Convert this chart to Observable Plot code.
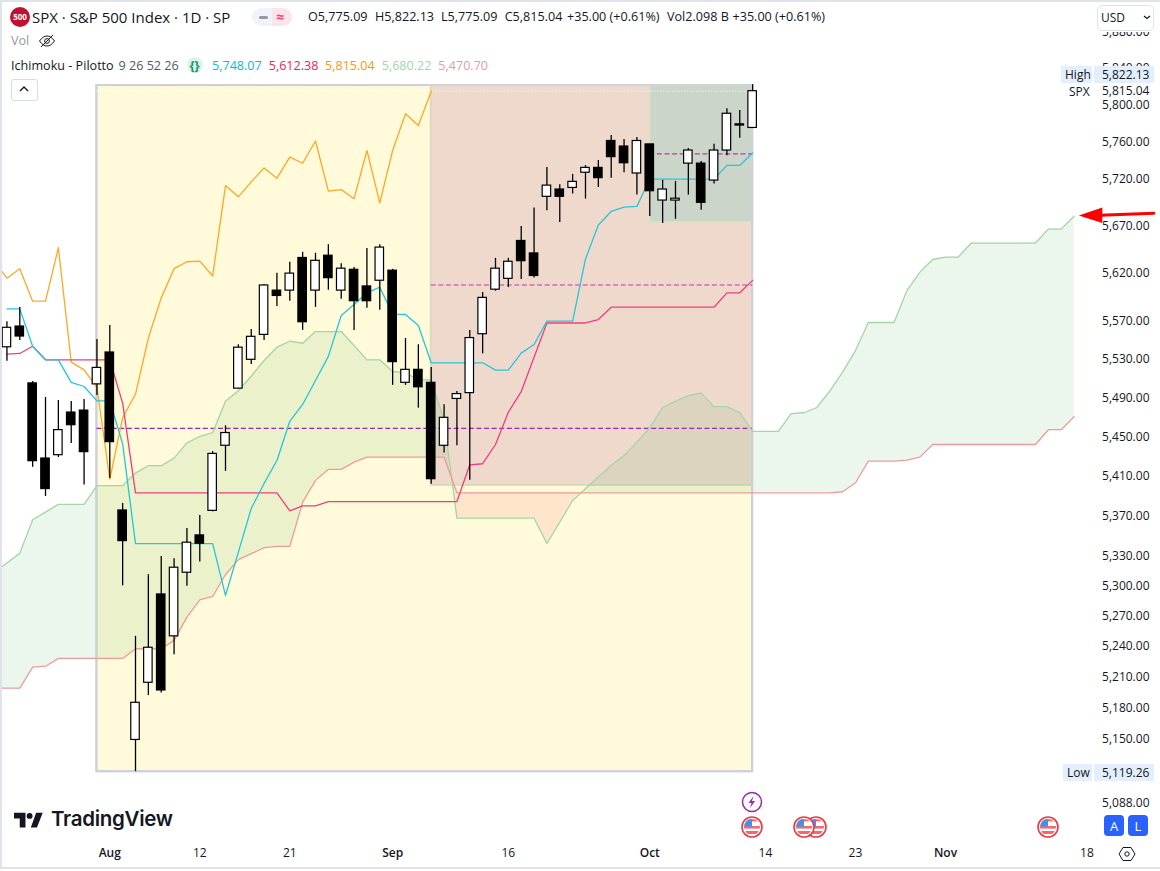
<!DOCTYPE html>
<html>
<head>
<meta charset="utf-8">
<script src="https://cdn.jsdelivr.net/npm/d3@7"></script>
<script src="https://cdn.jsdelivr.net/npm/@observablehq/plot@0.6"></script>
<style>
html,body{margin:0;padding:0;background:#fff;width:1160px;height:871px;overflow:hidden}
#root{position:relative;width:1160px;height:871px;font-family:"Open Sans",sans-serif;color:#131722}
#root svg{display:block}
.t{position:absolute;white-space:nowrap;line-height:16px;font-size:12px;transform:translateY(-50%)}
.b{position:absolute}
</style>
</head>
<body>
<div id="root"></div>
<script>
// ---- candles, index 0 = 1 Aug, first candle index -8
const firstCandle = -8;
const open  = [5542.4,5564,5505,5428,5431.4,5475,5477,5504,5537,5375.4,5149,5204.5,5291.4,5250,5313,5350.3,5375,5441,5499.6,5529.4,5555.3,5601.6,5601.6,5636,5601.6,5638.4,5601.6,5623.5,5606,5612,5622.6,5505.6,5519,5505.6,5441,5489,5495,5556,5602.6,5614,5654,5640.8,5701,5708.8,5710.5,5726.8,5732,5761,5755,5726,5757.3,5697,5697,5736.6,5736.6,5718.4,5750.7,5779,5775.09];
const high  = [5569,5584,5507,5490.5,5487.4,5486.4,5488.5,5550.5,5565,5382.5,5250,5311,5329.3,5327,5357.3,5370.3,5435,5461.4,5545,5561,5608,5620,5631.4,5642,5641,5650,5630,5626,5646,5650,5624,5551.5,5545,5521.5,5483,5496.6,5560,5599.6,5635.6,5635.6,5669.4,5689,5732.5,5714,5725,5734.6,5740,5767,5762.6,5764.7,5757.6,5718.6,5717.5,5753,5739,5757.6,5796,5794,5822.13];
const low   = [5528,5549.4,5419,5389.5,5429,5443.3,5401,5492.5,5407.8,5300,5118.5,5192,5194.4,5232,5299.6,5323.6,5374,5415,5499.6,5524.6,5549.4,5585,5590.5,5560,5584,5602,5592.5,5560,5583,5581,5503,5503,5479.5,5402,5433.5,5441,5406,5535.6,5601,5604.8,5613.3,5615,5686,5673.6,5704,5698.6,5711,5721,5726.8,5703,5680,5672.6,5677,5703,5686.6,5714.6,5745,5764,5775.09];
const close = [5562.7,5553.6,5425.3,5397,5457,5462,5434.5,5521,5444.7,5344.6,5185,5238.8,5197,5318,5343,5342,5432.7,5454,5542,5553.3,5607,5596,5619.5,5568.5,5633,5614.7,5624.7,5590.5,5590.5,5647,5527,5519,5501,5407,5469.6,5494,5552,5594,5624.7,5632,5632.6,5617,5713,5701,5717,5732,5721,5743.6,5737,5761,5707,5708.8,5699,5750.7,5694.6,5750.7,5790.5,5777.7,5815.04];

// ---- Ichimoku lines
const firstTenkan = -8;
const tenkan = [5582.5,5582.5,5543.5,5529.4,5529.4,5506,5501.8,5487,5487,5443,5342,5342,5342,5342,5342,5342,5342,5290.4,5333.5,5377.4,5402.7,5426,5466,5483.3,5508,5533,5575.5,5587,5599.3,5605.2,5577,5576.6,5565,5526.3,5526.3,5526.3,5526.3,5526.3,5518.7,5518.7,5536.3,5545.3,5569.6,5569.6,5569.6,5635,5671,5685.4,5690,5690.8,5720,5720,5720,5720,5720,5720,5734.7,5734.7,5748.07];
const firstKijun = -8;
const kijun = [5535.2,5536,5543.5,5529.4,5529.4,5529.4,5529.4,5529.4,5529.4,5484.7,5393.2,5393.2,5393.2,5393.2,5393.2,5393.2,5393.2,5393.2,5393.2,5393.2,5393.2,5393.2,5375,5380,5380,5384.4,5384.4,5384.4,5384.4,5384.4,5384.4,5384.4,5384.4,5384.4,5384.4,5384.4,5421.6,5422.7,5442.3,5475.4,5496.6,5532,5567.7,5567.7,5567.7,5567.7,5571.3,5584.2,5584.2,5584.2,5584.2,5584.2,5584.2,5584.2,5584.2,5584.2,5599.3,5599.3,5612.38];
const firstChikou = -9;
const chikou = [5633,5614.7,5624.7,5590.5,5590.5,5647,5527,5519,5501,5407,5469.6,5494,5552,5594,5624.7,5632,5632.6,5617,5713,5701,5717,5732,5721,5743.6,5737,5761,5707,5708.8,5699,5750.7,5694.6,5750.7,5790.5,5777.7,5815.04];
const firstSenkou = -9;
const senkouA = [5313.3,5322.6,5332.3,5366,5373.7,5381.5,5381.5,5381.5,5400.4,5400.4,5400.4,5413.2,5420.7,5420.7,5428.4,5444,5450.5,5454.3,5486.7,5497.4,5512.4,5528.7,5542.5,5548.7,5546.6,5558.8,5558.8,5558.8,5544.2,5529.4,5529.4,5517.3,5516,5508.7,5508.7,5467,5367.6,5367.6,5367.6,5367.6,5367.6,5367.6,5367.6,5342.3,5363.6,5385.5,5397.4,5409.2,5421,5431,5444.7,5459.5,5480.2,5486.4,5492.5,5495,5481,5481,5475,5455.6,5455.6,5455.6,5473.8,5474.8,5480.2,5497,5516.6,5539,5568.2,5568.2,5568.2,5601.6,5620.8,5634.4,5637,5637,5651.8,5651.8,5651.8,5651.8,5651.8,5651.8,5666.6,5666.6,5680.22];
const senkouB = [5199.3,5199.3,5199.3,5219.7,5220.7,5228.3,5228.3,5228.3,5228.3,5228.3,5228.3,5237.8,5237.8,5237.8,5246,5268.9,5286,5289.4,5311.2,5326,5332,5338,5339.3,5339.3,5383.8,5405.8,5417,5417,5424.3,5429.4,5429.4,5429.4,5429.4,5429.4,5429.4,5429.4,5393.2,5393.2,5393.2,5393.2,5393.2,5393.2,5393.2,5393.2,5393.2,5393.2,5393.2,5393.2,5393.2,5393.2,5393.2,5393.2,5393.2,5393.2,5393.2,5393.2,5393.2,5393.2,5393.2,5393.2,5393.2,5393.2,5393.2,5393.2,5393.2,5393.2,5394.3,5403.4,5425.3,5425.3,5425.3,5426.3,5429.4,5442.3,5442.3,5442.3,5442.3,5442.3,5442.3,5442.3,5442.3,5442.3,5457.4,5457.4,5470.7];

// ---- range boxes and their midlines
const boxes = [
  {i1:-1, i2:50, p1:5118.4, p2:5821.2, fill:"#fffad9", stroke:"#cdd0da"},
  {i1:25, i2:50, p1:5400.7, p2:5821.2, fill:"#efd9cc", stroke:"#dbd9be"},
  {i1:42, i2:50, p1:5673.6, p2:5821.2, fill:"#ccd5c9", stroke:"#dfe0c2"}
];
const midlines = [
  {i1:-1, i2:50, p:5458.8, stroke:"#9c27b0"},
  {i1:25, i2:50, p:5607.5, stroke:"#c0399f"},
  {i1:42, i2:50, p:5747,   stroke:"#c0399f"}
];
const lastClose = 5815.04;

// ---- axes
const priceTicks = [5088,5150,5180,5210,5240,5270,5300,5330,5370,5410,5450,5490,5530,5570,5620,5670,5720,5760,5800,5840,5880];
const dayTicks = [7,14,31,51,58,76];
const dayLabels = ["12","21","16","14","23","18"];
const monthTicks = [0,22,42,65];
const monthLabels = ["Aug","Sep","Oct","Nov"];

// ---- arrow annotation (bar index, price)
const arrowShaft = [{i:77,p:5681.2},{i:81.2,p:5683.4}];
const arrowHead = [{i:75.37,p:5681},{i:77.2,p:5689.5},{i:77.2,p:5673}];

const series = (arr, start) => arr.map((p, k) => ({i: start + k, p}));
const candles = open.map((o, k) => ({i: firstCandle + k, o, h: high[k], l: low[k], c: close[k], up: close[k] >= o}));

// cloud rows with the A/B crossings so the two fills meet cleanly
const cloud = [];
senkouA.forEach((a, k) => {
  const b = senkouB[k], i = firstSenkou + k;
  cloud.push({i, a, b});
  if (k + 1 < senkouA.length) {
    const d0 = a - b, d1 = senkouA[k + 1] - senkouB[k + 1];
    if (d0 * d1 < 0) {
      const t = d0 / (d0 - d1), v = a + (senkouA[k + 1] - a) * t;
      cloud.push({i: i + t, a: v, b: v});
    }
  }
});

const fmtPrice = d3.format(",.2f");
const lineOpts = (stroke, w = 1.3) => ({x: "i", y: "p", stroke, strokeWidth: w, clip: true});

const chart = Plot.plot({
  width: 1160, height: 871,
  marginLeft: 2, marginRight: 64, marginTop: 0, marginBottom: 31,
  x: {type: "linear", domain: [-8.322, 76.77], range: [2.3, 1096.3]},
  y: {type: "log", domain: [5088, 5800], range: [803, 104.5]},
  style: {fontFamily: '"Open Sans",sans-serif', fontSize: "12px", color: "#131722", background: "transparent", overflow: "visible"},
  marks: [
    Plot.rect(boxes, {x1: "i1", x2: "i2", y1: "p1", y2: "p2", fill: "fill", stroke: "stroke", strokeWidth: 2}),
    Plot.areaY(cloud, {x: "i", y1: "b", y2: d => Math.max(d.a, d.b), fill: "#4caf50", fillOpacity: 0.11, clip: true}),
    Plot.areaY(cloud, {x: "i", y1: "a", y2: d => Math.max(d.a, d.b), fill: "#ff4c57", fillOpacity: 0.11, clip: true}),
    Plot.rect(boxes.slice(0, 1), {x1: "i1", x2: "i2", y1: "p1", y2: "p2", fill: "none", stroke: "stroke", strokeOpacity: 0.9, strokeWidth: 2}),
    Plot.ruleY(midlines, {x1: "i1", x2: "i2", y: "p", stroke: "stroke", strokeWidth: 1.2, strokeDasharray: "5 2.6"}),
    Plot.ruleY([lastClose], {x1: -1, x2: 50, stroke: "#fff", strokeWidth: 1, strokeDasharray: "1 2"}),
    Plot.line(series(senkouA, firstSenkou), lineOpts("#a5d6a7")),
    Plot.line(series(senkouB, firstSenkou), lineOpts("#ef9a9a")),
    Plot.line(series(chikou, firstChikou), lineOpts("#ffa726")),
    Plot.line(series(kijun, firstKijun), lineOpts("#ec407a")),
    Plot.line(series(tenkan, firstTenkan), lineOpts("#26c6da")),
    Plot.ruleX(candles, {x: "i", y1: "l", y2: "h", stroke: "#000", strokeWidth: 1.3}),
    Plot.rect(candles, {x1: d => d.i - 0.33, x2: d => d.i + 0.33, y1: "o", y2: "c", fill: d => d.up ? "#fff" : "#000", stroke: "#000", strokeWidth: 1.2}),
    Plot.line(arrowShaft, {x: "i", y: "p", stroke: "#ff0000", strokeWidth: 3}),
    Plot.line(arrowHead, {x: "i", y: "p", fill: "#ff0000", stroke: "none"}),
    Plot.axisY(priceTicks, {anchor: "right", tickSize: 0, tickPadding: 53, textAnchor: "end", tickFormat: fmtPrice, label: null, fill: "#131722"}),
    Plot.axisX(dayTicks, {anchor: "bottom", tickSize: 0, tickPadding: 8, tickFormat: (d) => dayLabels[dayTicks.indexOf(d)], label: null, fill: "#131722"}),
    Plot.axisX(monthTicks, {anchor: "bottom", tickSize: 0, tickPadding: 8, tickFormat: (d) => monthLabels[monthTicks.indexOf(d)], label: null, fill: "#131722", fontWeight: 600})
  ]
});
const root = document.getElementById("root");
root.appendChild(chart);

// ---- header, labels and icons around the chart
const box = (x, y, w, h, style = "") => {
  const d = document.createElement("div"); d.className = "b";
  d.style.cssText = `left:${x}px;top:${y}px;width:${w}px;height:${h}px;${style}`;
  root.appendChild(d); return d;
};
const text = (x, y, s, style = "") => {
  const d = document.createElement("div"); d.className = "t";
  d.style.cssText = `left:${x}px;top:${y}px;${style}`; d.textContent = s;
  root.appendChild(d); return d;
};
const icon = (x, y, w, h, svg) => { box(x, y, w, h).innerHTML = `<svg width="${w}" height="${h}" viewBox="0 0 ${w} ${h}">${svg}</svg>`; };
const LEG = "font-size:12.6px;";

// pane edges
box(0, 0, 1160, 2, "background:#e0e3eb");
box(0, 0, 2, 869, "background:#e0e3eb");
box(0, 867, 1160, 2, "background:#e0e3eb");
// mask above the price scale
box(1096, 2, 64, 30, "background:#fff");

// title line
box(10, 7, 20, 20, "background:#c2112e;border-radius:50%");
text(10, 17, "500", "width:20px;text-align:center;color:#fff;font-size:8px;font-weight:700");
text(32, 17, "SPX · S&P 500 Index · 1D · SP", "font-size:15px");
box(252, 8, 20, 18, "background:#f0f3fa;border-radius:9px 0 0 9px");
box(272, 8, 20, 18, "background:#fce4ec;border-radius:0 9px 9px 0");
box(258.5, 15.5, 9, 3, "background:#9598a1;border-radius:1.5px");
text(276, 17, "≈", "color:#f0457d;font-size:14px;font-weight:700");
[[308,"O5,775.09"],[375,"H5,822.13"],[441,"L5,775.09"],[504.7,"C5,815.04"],[567,"+35.00 (+0.61%)"],[667,"Vol2.098 B"],[732.5,"+35.00 (+0.61%)"]]
  .forEach(([x, s]) => text(x, 17.3, s, LEG));

// Vol line
text(11, 41, "Vol", LEG + "color:#9598a1");
icon(38, 33, 18, 16, '<path d="M1.5 8C4 4.5 6.5 3 9 3s5 1.5 7.5 5C14 11.5 11.5 13 9 13S4 11.5 1.5 8z" fill="none" stroke="#131722" stroke-width="1"/><circle cx="9" cy="8" r="2.4" fill="none" stroke="#131722"/><path d="M3 14L15 2" stroke="#131722"/>');

// indicator line
text(11, 65.5, "Ichimoku - Pilotto", LEG + "color:#131722");
text(118.5, 65.5, "9 26 52 26", LEG + "color:#555a66");
box(187, 57, 16, 16, "background:#e3f2e6;border-radius:50%");
text(189.5, 64.5, "{}", "color:#089981;font-weight:700;font-size:13px");
[[212,"5,748.07","#00bcd4"],[268.7,"5,612.38","#e91e63"],[325,"5,815.04","#ff9800"],[381.7,"5,680.22","#a5d6a7"],[438.3,"5,470.70","#ef9a9a"]]
  .forEach(([x, s, c]) => text(x, 65.5, s, LEG + `color:${c}`));
box(11, 79, 25, 20, "background:#fff;border:1px solid #d9dbe3;border-radius:3px");
icon(18, 85, 12, 8, '<path d="M2 6l4-4 4 4" fill="none" stroke="#131722" stroke-width="1.4"/>');

// USD selector
box(1097, 5, 55, 24, "background:#fff;border:1px solid #e0e3eb;border-radius:5px");
text(1101, 17.5, "USD", "font-size:12px");
icon(1143, 15, 8, 5, '<path d="M1 1l3 2.5L7 1" fill="none" stroke="#131722" stroke-width="1.2"/>');

// High / last / low labels
box(1061, 66, 31, 17, "background:#e3effd");
box(1094, 66, 60, 17, "background:#e3effd");
text(1065, 74.5, "High");
text(1102, 74.5, "5,822.13");
text(1069, 91.5, "SPX");
box(1096, 84, 58, 14, "background:#fff");
text(1102, 91, "5,815.04");
box(1063, 764, 29, 17, "background:#e3effd");
box(1094, 764, 60, 17, "background:#e3effd");
text(1067, 772.5, "Low");
text(1102, 772.5, "5,119.26");

// A / L buttons and settings
box(1104, 815, 20, 21, "background:#2962ff;border-radius:4px");
box(1128, 815, 20, 21, "background:#2962ff;border-radius:4px");
text(1104, 825.5, "A", "width:20px;text-align:center;color:#fff;font-size:13px");
text(1128, 825.5, "L", "width:20px;text-align:center;color:#fff;font-size:13px");
icon(1118, 846, 18, 16, '<path d="M5 1.5h8L17 8l-4 6.5H5L1 8z" fill="none" stroke="#131722"/><circle cx="9" cy="8" r="2.2" fill="none" stroke="#131722"/>');

// event flags
const flag = x => icon(x - 11, 816, 22, 22, '<circle cx="11" cy="11" r="10" fill="#fff" stroke="#f23645" stroke-width="1.6"/><clipPath id="c"><circle cx="11" cy="11" r="8"/></clipPath><g clip-path="url(#c)"><rect x="2" y="3" width="18" height="16" fill="#fff"/><rect x="2" y="10" width="18" height="2.6" fill="#f26a6f"/><rect x="2" y="15" width="18" height="3" fill="#f26a6f"/><rect x="3" y="3" width="16" height="2.4" fill="#f26a6f"/><rect x="2" y="3" width="9" height="7.5" fill="#4a90e2"/></g>');
[816, 804, 752, 1048].forEach(flag);
icon(741, 791, 22, 22, '<circle cx="11" cy="11" r="9.5" fill="#fff" stroke="#9c27b0" stroke-width="1.5"/><path d="M12.5 5L7.5 12h3l-1.5 5 5-7h-3z" fill="#9c27b0"/>');

// logo
icon(14, 811, 30, 17, '<g transform="scale(0.82)"><path d="M14 20H7V9H0V2h14zM28 20h-7.5L27 2h8z" fill="#131722"/><circle cx="19" cy="6" r="3.6" fill="#131722"/></g>');
text(51, 819, "TradingView", "font-size:20.5px;font-weight:600;font-family:Inter,sans-serif;letter-spacing:-0.3px;line-height:24px;color:#131722");
</script>
</body>
</html>
